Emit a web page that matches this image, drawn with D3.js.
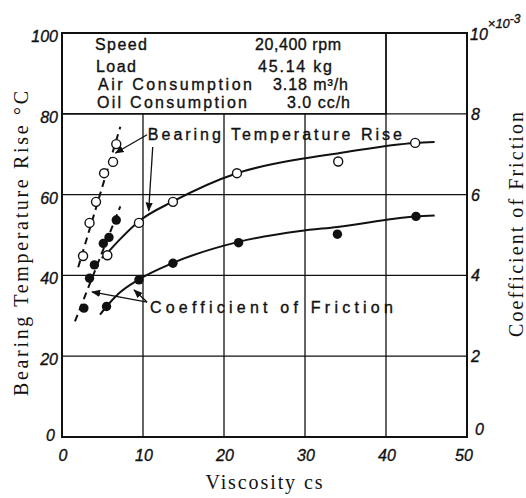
<!DOCTYPE html>
<html>
<head>
<meta charset="utf-8">
<script src="https://cdn.jsdelivr.net/npm/d3@7"></script>
<style>
  body { margin: 0; background: #fff; }
  svg { display: block; }
  .tick-label { font-family: "Liberation Sans", sans-serif; font-style: italic; font-size: 16px; fill: #111; stroke: #111; stroke-width: 0.35; }
  .note { font-family: "Liberation Sans", sans-serif; font-size: 16px; fill: #111; stroke: #111; stroke-width: 0.35; }
  .title { font-family: "Liberation Serif", serif; font-size: 20px; fill: #111; }
</style>
</head>
<body>
<svg id="chart" width="526" height="498"></svg>
<script>
/*################
Data
################*/
// open circles: bearing temperature rise (deg C)
const tempDashedPts = [[2.6, 44.8], [3.4, 53.0], [4.2, 58.2], [5.2, 65.3], [6.3, 68.1], [6.7, 72.5]];
const tempSolidPts = [[5.6, 45.0], [9.5, 53.0], [13.7, 58.2], [21.6, 65.3], [34.1, 68.2], [43.6, 72.8]];
// filled circles: coefficient of friction (x10^-3)
const fricDashedPts = [[2.7, 3.19], [3.4, 3.93], [4.0, 4.26], [5.1, 4.79], [5.8, 4.94], [6.7, 5.37]];
const fricSolidPts = [[5.5, 3.23], [9.5, 3.89], [13.7, 4.30], [21.8, 4.81], [34.0, 5.02], [43.7, 5.46]];

// fitted lines as drawn
const tempDashedLine = [[2.0, 42.0], [7.2, 76.8]];
const fricDashedLine = [[1.6, 2.86], [7.2, 5.71]];
const tempSolidCurve = [[4.9, 44.3], [5.6, 45.6], [7.0, 48.6], [9.5, 53.4], [13.7, 58.3], [21.6, 65.3], [29.4, 68.8], [34.0, 70.2], [43.6, 72.8], [46.0, 73.0]];
const fricSolidCurve = [[4.7, 3.03], [5.5, 3.23], [7.0, 3.55], [9.5, 3.90], [13.7, 4.31], [21.8, 4.83], [29.4, 5.10], [34.0, 5.20], [43.7, 5.46], [46.0, 5.48]];

const xTicks = [0, 10, 20, 30, 40, 50];
const yLeftTicks = [0, 20, 40, 60, 80, 100];
const yRightTicks = [0, 2, 4, 6, 8];

const conditions = [
    ['Speed', '20,400 rpm'],
    ['Load', '45.14 kg'],
    ['Air  Consumption', '3.18 m³/h'],
    ['Oil  Consumption', '3.0 cc/h']
];

/*################
Scales
################*/
const svg = d3.select('#chart');
const x = d3.scaleLinear().domain([0, 50]).range([62, 467]);
const yL = d3.scaleLinear().domain([0, 100]).range([437, 33]);
const yR = d3.scaleLinear().domain([0, 10]).range([437, 33]);

const ink = '#111';

/*################
Grid + frame
################*/
const grid = svg.append('g').attr('stroke', ink).attr('stroke-width', 1.3);
// vertical grid: 10..30 stop under the conditions box, 40 runs full height
[10, 20, 30, 40].forEach(v => {
    grid.append('line')
        .attr('x1', x(v)).attr('x2', x(v))
        .attr('y1', yL(0)).attr('y2', v === 40 ? yL(100) : yL(80));
});
[20, 40, 60, 80].forEach(v => {
    grid.append('line')
        .attr('x1', x(0)).attr('x2', x(50))
        .attr('y1', yL(v)).attr('y2', yL(v));
});

svg.append('rect')
    .attr('x', x(0)).attr('y', yL(100))
    .attr('width', x(50) - x(0)).attr('height', yL(0) - yL(100))
    .attr('fill', 'none').attr('stroke', ink).attr('stroke-width', 2);

/*################
Tick labels
################*/
svg.selectAll('.xl').data(xTicks).enter().append('text')
    .attr('class', 'tick-label')
    .attr('x', d => x(d) + (d === 50 ? -3 : 1))
    .attr('y', 461)
    .attr('text-anchor', 'middle')
    .text(d => d);

svg.selectAll('.yl').data(yLeftTicks).enter().append('text')
    .attr('class', 'tick-label')
    .attr('x', d => d === 0 ? 55 : 58)
    .attr('y', d => yL(d) + (d === 0 ? 4 : 9))
    .attr('text-anchor', 'end')
    .text(d => d);

svg.selectAll('.yr').data(yRightTicks).enter().append('text')
    .attr('class', 'tick-label')
    .attr('x', d => d === 0 ? 475 : 471)
    .attr('y', d => yR(d) + (d === 0 ? -2 : 6))
    .text(d => d);

// 10 with x10^-3 multiplier
const top10 = svg.append('text').attr('class', 'tick-label').attr('x', 470).attr('y', 40);
top10.append('tspan').text('10');
top10.append('tspan').attr('dy', -12).attr('font-size', 13).text('×10');
top10.append('tspan').attr('dy', -5).attr('font-size', 12).text('-3');

/*################
Axis titles
################*/
svg.append('text')
    .attr('class', 'title')
    .attr('transform', `translate(28, ${(90 + 397) / 2}) rotate(-90)`)
    .attr('text-anchor', 'middle')
    .attr('textLength', 305).attr('lengthAdjust', 'spacing')
    .text('Bearing  Temperature  Rise  °C');

svg.append('text')
    .attr('class', 'title')
    .attr('transform', `translate(523, ${(112 + 337) / 2}) rotate(-90)`)
    .attr('text-anchor', 'middle')
    .attr('textLength', 225).attr('lengthAdjust', 'spacing')
    .text('Coefficient  of  Friction');

svg.append('text')
    .attr('class', 'title')
    .attr('x', 264).attr('y', 489)
    .attr('text-anchor', 'middle')
    .attr('textLength', 117).attr('lengthAdjust', 'spacing')
    .text('Viscosity  cs');

/*################
Conditions box (covers top row of the grid)
################*/
const box = svg.append('g');
box.append('rect')
    .attr('x', x(0)).attr('y', yL(100))
    .attr('width', x(40) - x(0)).attr('height', yL(80) - yL(100))
    .attr('fill', 'none').attr('stroke', ink).attr('stroke-width', 1.5);

const rowBase = [50, 72, 90, 108];
const leftSpan = [[95, 52], [96, 40], [98, 154], [97, 150]];
const rightSpan = [[255, 86], [258, 74], [273, 75], [287, 63]];
conditions.forEach((row, i) => {
    box.append('text').attr('class', 'note')
        .attr('x', leftSpan[i][0]).attr('y', rowBase[i])
        .attr('textLength', leftSpan[i][1]).attr('lengthAdjust', 'spacing')
        .text(row[0]);
    box.append('text').attr('class', 'note')
        .attr('x', rightSpan[i][0]).attr('y', rowBase[i])
        .attr('textLength', rightSpan[i][1]).attr('lengthAdjust', 'spacing')
        .text(row[1]);
});

/*################
Lines
################*/
const lineL = d3.line().x(d => x(d[0])).y(d => yL(d[1]));
const lineR = d3.line().x(d => x(d[0])).y(d => yR(d[1]));
const curveL = d3.line().x(d => x(d[0])).y(d => yL(d[1])).curve(d3.curveMonotoneX);
const curveR = d3.line().x(d => x(d[0])).y(d => yR(d[1])).curve(d3.curveMonotoneX);

const lines = svg.append('g').attr('fill', 'none').attr('stroke', ink).attr('stroke-width', 2);
lines.append('path').attr('d', lineL(tempDashedLine)).attr('stroke-dasharray', '7,5');
lines.append('path').attr('d', lineR(fricDashedLine)).attr('stroke-dasharray', '7,5');
lines.append('path').attr('d', curveL(tempSolidCurve));
lines.append('path').attr('d', curveR(fricSolidCurve));

/*################
Markers
################*/
const pts = svg.append('g');
pts.selectAll('.open').data(tempDashedPts.concat(tempSolidPts)).enter().append('circle')
    .attr('cx', d => x(d[0])).attr('cy', d => yL(d[1])).attr('r', 4.5)
    .attr('fill', '#fff').attr('stroke', ink).attr('stroke-width', 1.4);
pts.selectAll('.filled').data(fricDashedPts.concat(fricSolidPts)).enter().append('circle')
    .attr('cx', d => x(d[0])).attr('cy', d => yR(d[1])).attr('r', 4.7)
    .attr('fill', ink);

/*################
Annotations
################*/
svg.append('defs').append('marker')
    .attr('id', 'head').attr('viewBox', '0 0 10 10')
    .attr('refX', 9).attr('refY', 5)
    .attr('markerWidth', 7).attr('markerHeight', 7)
    .attr('orient', 'auto')
    .append('path').attr('d', 'M0,1L10,5L0,9Z').attr('fill', ink);

const arrows = [
    // [from, to] in (viscosity, temperature) units
    [[10.5, 74.8], [6.6, 70.3]],
    [[11.2, 71.8], [10.7, 56.0]],
    [[10.5, 33.4], [3.7, 35.9]],
    [[10.5, 33.4], [8.9, 36.4]]
];
svg.append('g').selectAll('line').data(arrows).enter().append('line')
    .attr('x1', d => x(d[0][0])).attr('y1', d => yL(d[0][1]))
    .attr('x2', d => x(d[1][0])).attr('y2', d => yL(d[1][1]))
    .attr('stroke', ink).attr('stroke-width', 1.3)
    .attr('marker-end', 'url(#head)');

svg.append('text').attr('class', 'note')
    .attr('x', x(10.6)).attr('y', yL(73.5))
    .attr('textLength', 254).attr('lengthAdjust', 'spacing')
    .text('Bearing Temperature Rise');

svg.append('text').attr('class', 'note')
    .attr('x', x(10.85)).attr('y', yL(30.7))
    .attr('textLength', 243).attr('lengthAdjust', 'spacing')
    .text('Coefficient of Friction');
</script>
</body>
</html>
